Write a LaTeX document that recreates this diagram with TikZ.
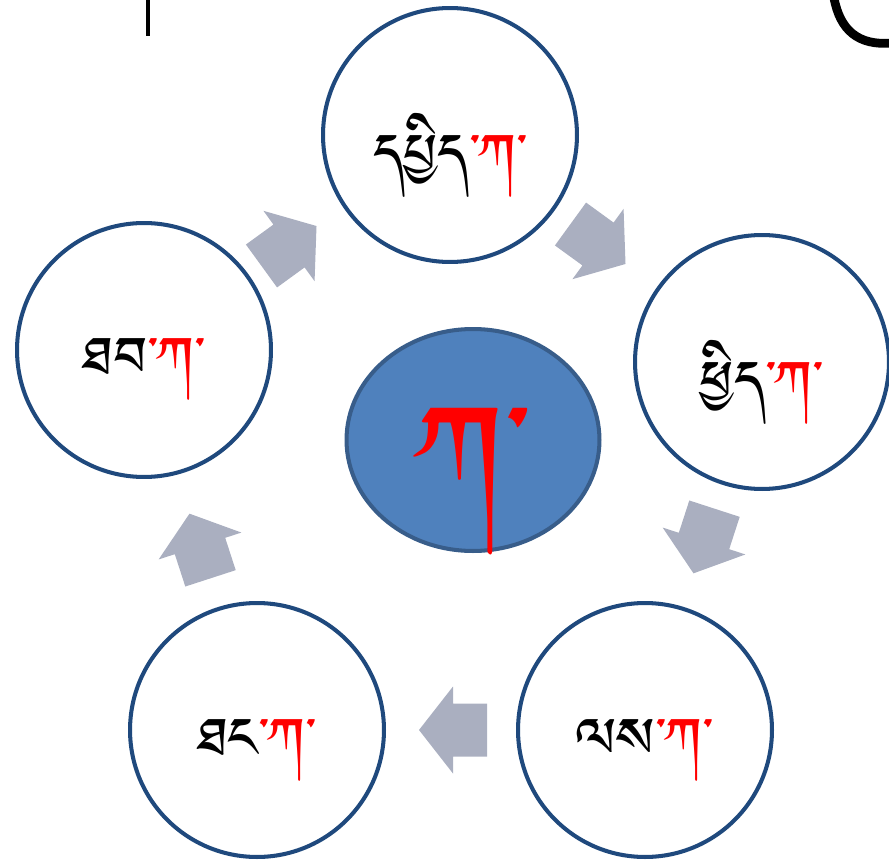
\documentclass[tikz,border=0pt]{standalone}
\usepackage{fontspec}
\usetikzlibrary{shapes.geometric}
\IfFontExistsTF{Jomolhari}{\newfontfamily\tibfont[Script=Tibetan]{Jomolhari}}{%
  \IfFontExistsTF{Tibetan Machine Uni}{\newfontfamily\tibfont[Script=Tibetan]{Tibetan Machine Uni}}{%
    \IfFontExistsTF{Microsoft Himalaya}{\newfontfamily\tibfont[Script=Tibetan]{Microsoft Himalaya}}{%
      \IfFontExistsTF{Qomolangma-Uchen Sarchen}{\newfontfamily\tibfont[Script=Tibetan]{Qomolangma-Uchen Sarchen}}{%
        \newfontfamily\tibfont{DejaVu Sans}}}}}
\definecolor{ringblue}{RGB}{31,73,125}
\definecolor{hubfill}{RGB}{79,129,189}
\definecolor{hubedge}{RGB}{56,93,138}
\definecolor{flowgray}{RGB}{170,175,192}
\newcommand{\kasuffix}{\textcolor{red}{་ཀ་}}
\tikzset{
  season/.style={circle, draw=ringblue, line width=2.3pt, fill=white, minimum size=5.08cm, inner sep=0pt},
  word/.style={font=\tibfont\fontsize{40}{40}\selectfont, inner sep=0pt, yshift=-0.4cm},
  hub/.style={ellipse, draw=hubedge, line width=2.3pt, fill=hubfill, minimum width=5.06cm, minimum height=4.44cm, inner sep=0pt},
  flow/.style={fill=flowgray, draw=none}
}
\begin{document}
\begin{tikzpicture}[x=0.02cm,y=-0.02cm]
\useasboundingbox (0,0) rectangle (889,865);
% cut-off title strokes
\draw[line width=1.8pt] (148,-2) -- (148,36);
\draw[line width=5pt] (834,-2) .. controls (840,30) and (858,46) .. (892,43);
% seasons ring
\node[season] (spring) at (450,135) {};
\node[season] (phyid) at (762,362) {};
\node[season] (work) at (645,730) {};
\node[season] (thang) at (257,730) {};
\node[season] (hearth) at (144,350) {};
\node[word] (springword) at (spring) {དཔྱིད\kasuffix};
\node[word] (phyidword) at (phyid) {ཕྱིད\kasuffix};
\node[word] (workword) at (work) {ལས\kasuffix};
\node[word] (thangword) at (thang) {ཐང\kasuffix};
\node[word] (hearthword) at (hearth) {ཐབ\kasuffix};
% centre
\node[hub] (ka) at (473,440) {};
\node[font=\tibfont\fontsize{95}{95}\selectfont, text=red, inner sep=0pt] (kaletter) at (473,482) {ཀ་};
% block arrows
\foreach \px/\py/\ang in {289/246/36, 598/244/-36, 704/541/-108, 453/730/180, 200/546/108}
  \fill[flow, shift={(\px,\py)}, rotate=\ang]
    (-34,-26.5) -- (0,-26.5) -- (0,-43.5) -- (34,0) -- (0,43.5) -- (0,26.5) -- (-34,26.5) -- cycle;
\end{tikzpicture}
\end{document}
